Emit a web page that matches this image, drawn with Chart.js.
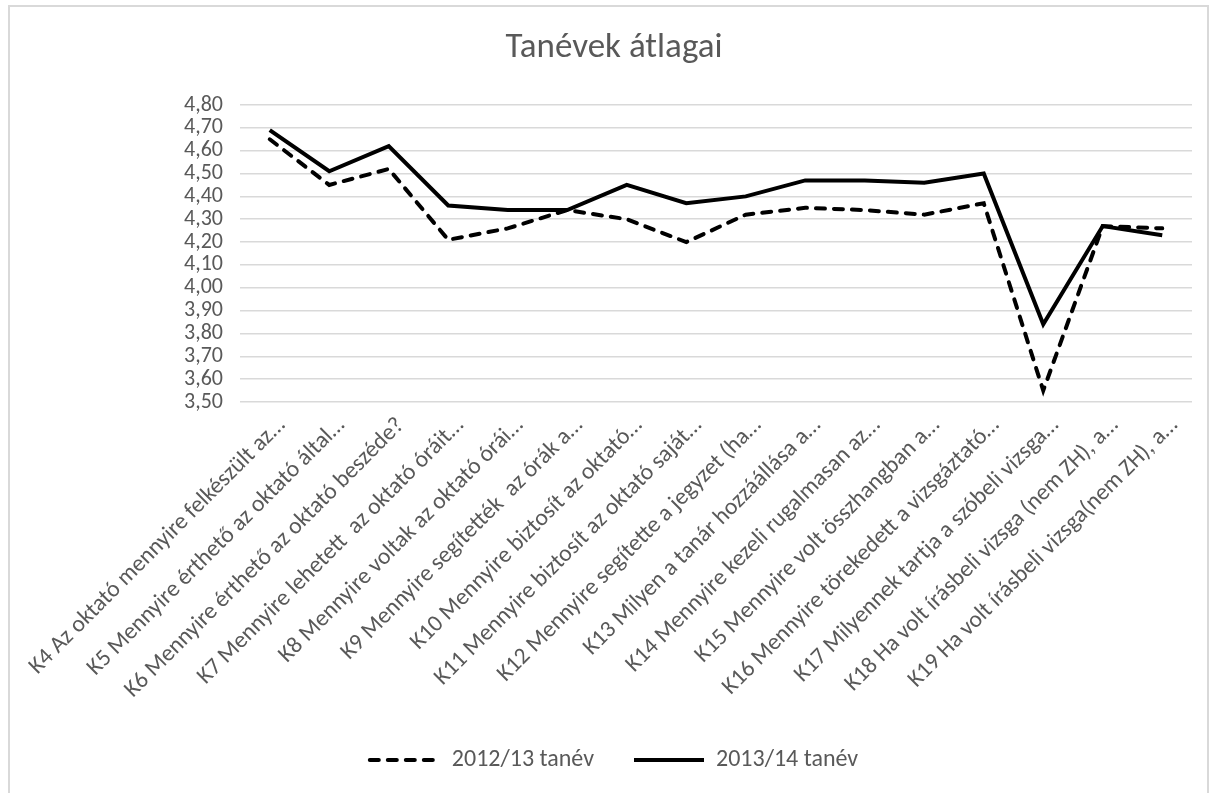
<!DOCTYPE html>
<html>
<head>
<meta charset="utf-8">
<script src="https://cdn.jsdelivr.net/npm/chart.js@4/dist/chart.umd.min.js"></script>
<style>
  html, body { margin: 0; padding: 0; background: #fff; }
  #wrap { position: absolute; left: 0; top: 0; width: 1217px; height: 793px; }
  #frame { position: absolute; left: 8px; top: 5px; width: 1201px; height: 800px; border: 2px solid #d9d9d9; box-sizing: border-box; }
</style>
</head>
<body>
<div id="wrap">
  <div id="frame"></div>
  <canvas id="chart" width="1217" height="793"></canvas>
</div>
<script>
const TITLE = 'Tanévek átlagai';

const categories = [
    'K4 Az oktató mennyire felkészült az…',
    'K5 Mennyire érthető az oktató által…',
    'K6 Mennyire érthető az oktató beszéde?',
    'K7 Mennyire lehetett  az oktató óráit…',
    'K8 Mennyire voltak az oktató órái…',
    'K9 Mennyire segítették  az órák a…',
    'K10 Mennyire biztosít az oktató…',
    'K11 Mennyire biztosít az oktató saját…',
    'K12 Mennyire segítette a jegyzet (ha…',
    'K13 Milyen a tanár hozzáállása a…',
    'K14 Mennyire kezeli rugalmasan az…',
    'K15 Mennyire volt összhangban a…',
    'K16 Mennyire törekedett a vizsgáztató…',
    'K17 Milyennek tartja a szóbeli vizsga…',
    'K18 Ha volt írásbeli vizsga (nem ZH), a…',
    'K19 Ha volt írásbeli vizsga(nem ZH), a…'
];

const year2012 = [4.65, 4.45, 4.52, 4.21, 4.26, 4.34, 4.30, 4.20, 4.32, 4.35, 4.34, 4.32, 4.37, 3.55, 4.27, 4.26];
const year2013 = [4.69, 4.51, 4.62, 4.36, 4.34, 4.34, 4.45, 4.37, 4.40, 4.47, 4.47, 4.46, 4.50, 3.84, 4.27, 4.23];

const Y_MIN = 3.5;
const Y_MAX = 4.8;
const Y_STEP = 0.1;

const TEXT_COLOR = '#595959';
const GRID_COLOR = '#d9d9d9';
const FONT = "Carlito, 'Open Sans', sans-serif";

// legend: the default point-style legend takes its dash from the point, not the line
function legendLabels(chart) {
    const items = Chart.defaults.plugins.legend.labels.generateLabels(chart);
    return items.map((item) => {
        const ds = chart.data.datasets[item.datasetIndex];
        return { ...item, lineDash: ds.borderDash || [], lineCap: ds.borderDash ? 'round' : 'butt', lineWidth: ds.borderWidth };
    });
}

new Chart(document.getElementById('chart').getContext('2d'), {
    type: 'line',
    data: {
        labels: categories,
        datasets: [
            {
                label: '2012/13 tanév',
                data: year2012,
                borderColor: '#000',
                backgroundColor: '#000',
                borderWidth: 4,
                borderDash: [9, 9],
                borderCapStyle: 'round',
                pointRadius: 0,
                tension: 0,
                fill: false
            },
            {
                label: '2013/14 tanév',
                data: year2013,
                borderColor: '#000',
                backgroundColor: '#000',
                borderWidth: 4,
                pointRadius: 0,
                tension: 0,
                fill: false
            }
        ]
    },
    options: {
        responsive: false,
        animation: false,
        layout: { padding: { left: 36, right: 25, top: 0, bottom: 11 } },
        plugins: {
            title: {
                display: true,
                text: TITLE,
                color: TEXT_COLOR,
                font: { family: FONT, size: 35, weight: '300' },
                padding: { top: 27, bottom: 36 }
            },
            legend: {
                position: 'bottom',
                labels: {
                    color: TEXT_COLOR,
                    font: { family: FONT, size: 24 },
                    usePointStyle: true,
                    pointStyle: 'line',
                    pointStyleWidth: 70,
                    padding: 40,
                    generateLabels: legendLabels
                }
            },
            tooltip: { enabled: false }
        },
        scales: {
            x: {
                offset: true,
                grid: { display: false },
                border: { display: false },
                ticks: {
                    color: TEXT_COLOR,
                    font: { family: FONT, size: 23.5 },
                    autoSkip: false,
                    minRotation: 45,
                    maxRotation: 45,
                    padding: 2,
                    labelOffset: 12
                },
                afterFit: (scale) => { scale.height = 306; }
            },
            y: {
                min: Y_MIN,
                max: Y_MAX,
                grid: { color: GRID_COLOR, lineWidth: 1.5, drawTicks: false },
                border: { display: false },
                ticks: {
                    stepSize: Y_STEP,
                    autoSkip: false,
                    color: TEXT_COLOR,
                    font: { family: FONT, size: 22 },
                    padding: 17,
                    callback: (v) => v.toFixed(2).replace('.', ',')
                },
                afterFit: (scale) => { scale.width = 204; }
            }
        }
    }
});
</script>
</body>
</html>
